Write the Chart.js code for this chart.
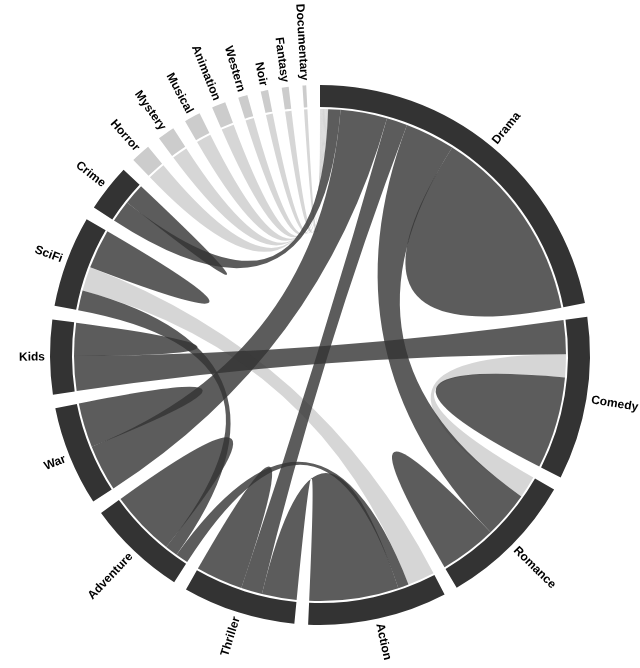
<!DOCTYPE html>
<html>
<head>
<meta charset="utf-8">
<script src="https://cdn.jsdelivr.net/npm/chart.js@4.4.1/dist/chart.umd.min.js"></script>
<style>
  html, body { margin: 0; padding: 0; background: #fff; }
</style>
</head>
<body>
<canvas id="myChart" width="640" height="668"></canvas>
<script>
// genres, clockwise from the top
var genres = ['Drama', 'Comedy', 'Romance', 'Action', 'Thriller', 'Adventure', 'War', 'Kids', 'SciFi',
  'Crime', 'Horror', 'Mystery', 'Musical', 'Animation', 'Western', 'Noir', 'Fantasy', 'Documentary'];
var minorGenres = ['Horror', 'Mystery', 'Musical', 'Animation', 'Western', 'Noir', 'Fantasy', 'Documentary'];

// links: one end at linkSource (width sourceValue), other at linkTarget (width targetValue)
var linkSource = ['Drama', 'Drama', 'Drama', 'Drama', 'Drama', 'Drama', 'Drama', 'Drama', 'Drama',
  'Drama', 'Drama', 'Drama', 'Drama', 'Comedy', 'Comedy', 'Comedy', 'Romance', 'Action', 'Action',
  'Action', 'Thriller', 'Adventure', 'Adventure', 'War', 'Kids', 'SciFi', 'Crime'];
var linkTarget = ['Drama', 'Romance', 'Thriller', 'War', 'Crime', 'Horror', 'Mystery', 'Musical', 'Animation',
  'Western', 'Noir', 'Fantasy', 'Documentary', 'Comedy', 'Kids', 'Romance', 'Romance', 'SciFi', 'Adventure',
  'Thriller', 'Thriller', 'SciFi', 'Adventure', 'War', 'Kids', 'SciFi', 'Crime'];
var sourceValue = [464, 118, 49, 110, 29, 3, 3, 3, 3, 2, 2, 2, 1, 217, 80, 54, 135, 64, 25, 211, 111, 30, 155, 105, 78, 93, 50];
var targetValue = [464, 110, 50, 110, 52, 42, 37, 35, 30, 20, 16, 15, 8, 217, 82, 52, 135, 57, 30, 82, 111, 47, 155, 105, 78, 93, 50];

var highlightPairs = [['Comedy', 'Romance'], ['Action', 'SciFi']];

var PAD_DEG = 2.93;
var n = genres.length;

// group totals and ordered ends per group
var totals = genres.map(function () { return 0; });
var ends = genres.map(function () { return []; });
linkSource.forEach(function (s, i) {
  var a = genres.indexOf(s), b = genres.indexOf(linkTarget[i]);
  ends[a].push({ link: i, other: b, value: sourceValue[i], side: 's' });
  totals[a] += sourceValue[i];
  if (a !== b) {
    ends[b].push({ link: i, other: a, value: targetValue[i], side: 't' });
    totals[b] += targetValue[i];
  }
});
ends.forEach(function (list, g) {
  list.forEach(function (e) { e.key = e.other === g ? n : (g - e.other + n) % n; });
  list.sort(function (p, q) { return p.key - q.key; });
});

var grand = totals.reduce(function (a, b) { return a + b; }, 0);
var padValue = grand * PAD_DEG / (360 - n * PAD_DEG);

var sliceData = [], sliceColors = [], sliceLabels = [];
genres.forEach(function (g, i) {
  var minor = minorGenres.indexOf(g) >= 0;
  sliceData.push(totals[i]);
  sliceColors.push(minor ? '#cccccc' : '#333333');
  sliceLabels.push(g);
  sliceData.push(padValue);
  sliceColors.push('rgba(0,0,0,0)');
  sliceLabels.push('');
});

function isLight(i) {
  var s = linkSource[i], t = linkTarget[i];
  if (minorGenres.indexOf(s) >= 0 || minorGenres.indexOf(t) >= 0) return true;
  return highlightPairs.some(function (p) {
    return (p[0] === s && p[1] === t) || (p[0] === t && p[1] === s);
  });
}

function ribbon(ctx, cx, cy, r, s0, s1, t0, t1, self) {
  ctx.beginPath();
  ctx.moveTo(cx + r * Math.cos(s0), cy + r * Math.sin(s0));
  ctx.arc(cx, cy, r, s0, s1);
  if (!self) {
    ctx.quadraticCurveTo(cx, cy, cx + r * Math.cos(t0), cy + r * Math.sin(t0));
    ctx.arc(cx, cy, r, t0, t1);
  }
  ctx.quadraticCurveTo(cx, cy, cx + r * Math.cos(s0), cy + r * Math.sin(s0));
  ctx.closePath();
  ctx.fill();
}

var chordPlugin = {
  id: 'chord',
  afterDraw: function (chart) {
    var ctx = chart.ctx;
    var arcs = chart.getDatasetMeta(0).data;
    var cx = arcs[0].x, cy = arcs[0].y;
    var r = arcs[0].innerRadius - 2;
    var pos = linkSource.map(function () { return {}; });

    ends.forEach(function (list, g) {
      var arc = arcs[g * 2];
      var k = (arc.endAngle - arc.startAngle) / totals[g];
      var a = arc.startAngle;
      list.forEach(function (e) {
        pos[e.link][e.side] = [a, a + e.value * k];
        a += e.value * k;
      });
    });

    ctx.save();
    [true, false].forEach(function (light) {
      ctx.fillStyle = light ? 'rgba(204,204,204,0.8)' : 'rgba(51,51,51,0.8)';
      linkSource.forEach(function (s, i) {
        if (isLight(i) !== light) return;
        var p = pos[i];
        var self = s === linkTarget[i];
        var t = self ? p.s : p.t;
        ribbon(ctx, cx, cy, r, p.s[0], p.s[1], t[0], t[1], self);
      });
    });

    // group labels
    ctx.fillStyle = '#000';
    ctx.font = 'bold 12px "Liberation Sans", Arial, sans-serif';
    ctx.textBaseline = 'middle';
    genres.forEach(function (g, i) {
      var arc = arcs[i * 2];
      var mid = (arc.startAngle + arc.endAngle) / 2;
      var d = mid + Math.PI / 2;
      d = ((d % (2 * Math.PI)) + 2 * Math.PI) % (2 * Math.PI);
      ctx.save();
      ctx.translate(cx, cy);
      ctx.rotate(mid);
      ctx.translate(arc.outerRadius + 5, 0);
      if (d > Math.PI) {
        ctx.rotate(Math.PI);
        ctx.textAlign = 'right';
      } else {
        ctx.textAlign = 'left';
      }
      ctx.fillText(g, 0, 0);
      ctx.restore();
    });
    ctx.restore();
  }
};

var ctx = document.getElementById('myChart');
var myChart = new Chart(ctx, {
  type: 'doughnut',
  data: {
    labels: sliceLabels,
    datasets: [{
      data: sliceData,
      backgroundColor: sliceColors,
      borderWidth: 0,
      hoverOffset: 0
    }]
  },
  options: {
    responsive: false,
    animation: false,
    events: [],
    cutout: 248,
    layout: { padding: { left: 50, right: 50, top: 85, bottom: 43 } },
    plugins: {
      legend: { display: false },
      tooltip: { enabled: false }
    }
  },
  plugins: [chordPlugin]
});
</script>
</body>
</html>
